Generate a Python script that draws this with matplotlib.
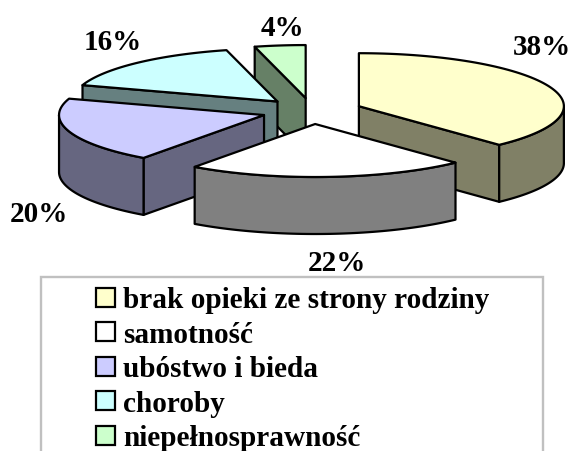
import numpy as np
import matplotlib.pyplot as plt
from matplotlib.colors import to_rgb
from matplotlib.patches import Polygon, Rectangle

categories = ['brak opieki ze strony rodziny', 'samotność', 'ubóstwo i bieda', 'choroby', 'niepełnosprawność']
values = [38, 22, 20, 16, 4]
colors = ['#FFFFCC', '#FFFFFF', '#CCCCFF', '#CCFFFF', '#CCFFCC']

# pie geometry, in pixels of the figure
CX, CY = 312, 112
RX, RY = 205, 53
DEPTH = 57
EXPLODE = 0.246
LW = 1.6

# x centre and text baseline of the percent labels
label_pos = [(542, 55), (337, 271), (39, 222), (113, 50), (282, 36)]
draw_order = [4, 3, 0, 2, 1]


def rim(ang, ox, oy):
    # ang is clockwise from 12 o'clock, in degrees
    a = np.radians(ang)
    return np.column_stack([ox + RX * np.sin(a), oy - RY * np.cos(a)])


def down(pts):
    return pts + np.array([0, DEPTH])


def face(ax, pts, fc):
    ax.add_patch(Polygon(pts, closed=True, fc=fc, ec='black', lw=LW, joinstyle='round'))


fig = plt.figure(figsize=(5.73, 4.52), dpi=100)
ax = fig.add_axes([0, 0, 1, 1])
ax.set_xlim(0, 573)
ax.set_ylim(452, 0)
ax.axis('off')

edges = np.concatenate([[0], np.cumsum(values)]) / sum(values) * 360

for i in draw_order:
    start, end = edges[i], edges[i + 1]
    mid = (start + end) / 2
    centre = np.array([CX, CY])
    ox, oy = centre + EXPLODE * (rim(np.array([mid]), CX, CY)[0] - centre)
    dark = tuple(c * 0.5 for c in to_rgb(colors[i]))
    apex = np.array([[ox, oy]])

    # only the cut faces turned towards the viewer
    cuts = []
    if start > 180:
        cuts.append(start)
    if end < 180:
        cuts.append(end)
    for edge in cuts:
        pts = np.vstack([apex, rim(np.array([edge]), ox, oy)])
        face(ax, np.vstack([pts, down(pts)[::-1]]), dark)

    lo, hi = max(start, 90), min(end, 270)
    if hi > lo:
        arc = rim(np.linspace(lo, hi, 60), ox, oy)
        face(ax, np.vstack([arc, down(arc)[::-1]]), dark)

    arc = rim(np.linspace(start, end, 80), ox, oy)
    face(ax, np.vstack([apex, arc]), colors[i])

for v, (x, y) in zip(values, label_pos):
    ax.text(x, y, f'{v}%', ha='center', va='baseline', family='Liberation Serif',
            weight='bold', size=21, color='black')

# legend box runs off the bottom of the picture
ax.add_patch(Rectangle((41, 278), 502, 200, fc='white', ec='#C0C0C0', lw=1.7, clip_on=True))
for i, name in enumerate(categories):
    y = 298 + i * 34.6
    ax.add_patch(Rectangle((96, y - 9.5), 19, 19, fc=colors[i], ec='black', lw=LW))
    ax.text(123, y + 10, name, ha='left', va='baseline', family='Liberation Serif',
            weight='bold', size=21.1, color='black')

fig.savefig('out.png', dpi=100)
